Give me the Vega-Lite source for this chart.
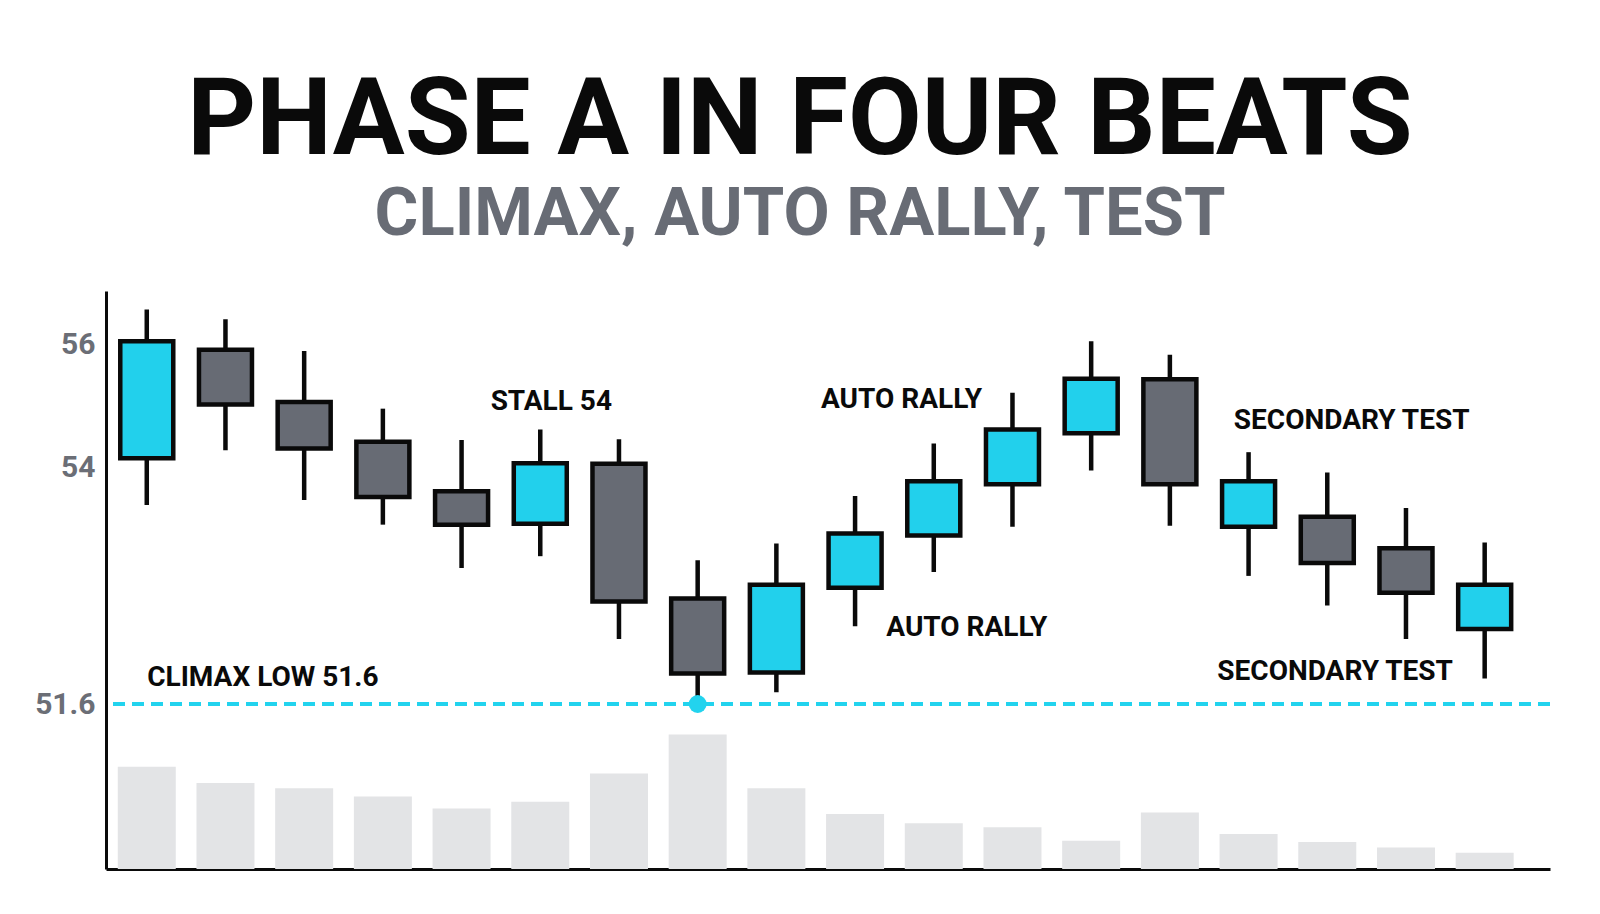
{
  "$schema": "https://vega.github.io/schema/vega-lite/v6.json",
  "description": "Phase A in four beats - candles with volume",
  "background": "white",
  "autosize": "none",
  "width": 1444,
  "height": 578,
  "padding": {"left": 106, "top": 291, "right": 50, "bottom": 45},
  "title": {
    "text": "PHASE A IN FOUR BEATS",
    "subtitle": "CLIMAX, AUTO RALLY, TEST",
    "anchor": "middle",
    "dx": -28,
    "font": "Roboto",
    "fontSize": 107,
    "fontWeight": "bold",
    "color": "#0a0a0a",
    "subtitleFont": "Roboto",
    "subtitleFontSize": 67,
    "subtitleFontWeight": "bold",
    "subtitleColor": "#686c75",
    "subtitlePadding": 6,
    "offset": 42
  },
  "datasets": {
    "candles": [
      {"idx": 1, "open": 54.15, "high": 56.58, "low": 53.62, "close": 56.06, "dir": "up", "vol": 76},
      {"idx": 2, "open": 55.92, "high": 56.42, "low": 54.28, "close": 55.03, "dir": "down", "vol": 64},
      {"idx": 3, "open": 55.07, "high": 55.9, "low": 53.67, "close": 54.31, "dir": "down", "vol": 60},
      {"idx": 4, "open": 54.42, "high": 54.96, "low": 53.42, "close": 53.7, "dir": "down", "vol": 54},
      {"idx": 5, "open": 53.76, "high": 54.45, "low": 52.98, "close": 53.42, "dir": "down", "vol": 45},
      {"idx": 6, "open": 53.43, "high": 54.62, "low": 53.1, "close": 54.07, "dir": "up", "vol": 50},
      {"idx": 7, "open": 54.06, "high": 54.46, "low": 52.26, "close": 52.64, "dir": "down", "vol": 71},
      {"idx": 8, "open": 52.67, "high": 53.06, "low": 51.6, "close": 51.91, "dir": "down", "vol": 100},
      {"idx": 9, "open": 51.92, "high": 53.23, "low": 51.72, "close": 52.81, "dir": "up", "vol": 60},
      {"idx": 10, "open": 52.78, "high": 53.71, "low": 52.39, "close": 53.33, "dir": "up", "vol": 41},
      {"idx": 11, "open": 53.31, "high": 54.39, "low": 52.94, "close": 53.86, "dir": "up", "vol": 34},
      {"idx": 12, "open": 53.83, "high": 55.22, "low": 53.4, "close": 54.62, "dir": "up", "vol": 31},
      {"idx": 13, "open": 54.56, "high": 56.06, "low": 53.97, "close": 55.45, "dir": "up", "vol": 21},
      {"idx": 14, "open": 55.44, "high": 55.84, "low": 53.41, "close": 53.83, "dir": "down", "vol": 42},
      {"idx": 15, "open": 53.4, "high": 54.25, "low": 52.9, "close": 53.86, "dir": "up", "vol": 26},
      {"idx": 16, "open": 53.5, "high": 53.95, "low": 52.6, "close": 53.03, "dir": "down", "vol": 20},
      {"idx": 17, "open": 53.18, "high": 53.59, "low": 52.26, "close": 52.73, "dir": "down", "vol": 16},
      {"idx": 18, "open": 52.36, "high": 53.24, "low": 51.86, "close": 52.81, "dir": "up", "vol": 12}
    ],
    "notes": [
      {"idx": 6.14, "price": 55.07, "label": "STALL 54"},
      {"idx": 2.475, "price": 51.86, "label": "CLIMAX LOW 51.6"},
      {"idx": 10.59, "price": 55.1, "label": "AUTO RALLY"},
      {"idx": 11.42, "price": 52.37, "label": "AUTO RALLY"},
      {"idx": 16.31, "price": 54.76, "label": "SECONDARY TEST"},
      {"idx": 16.1, "price": 51.92, "label": "SECONDARY TEST"}
    ],
    "levels": [
      {"price": 51.6, "name": "climax low"}
    ]
  },
  "layer": [
    {
      "data": {"name": "candles"},
      "mark": {"type": "bar", "width": 58, "color": "#e3e4e6"},
      "encoding": {
        "x": {
          "field": "idx",
          "type": "quantitative",
          "scale": {"domain": [0.482, 18.83], "nice": false, "zero": false, "padding": 0},
          "axis": {
            "labels": false,
            "ticks": false,
            "grid": false,
            "title": null,
            "domainColor": "#0a0a0a",
            "domainWidth": 3
          }
        },
        "y": {
          "field": "vol",
          "type": "quantitative",
          "scale": {"domain": [0, 430], "nice": false},
          "axis": null
        }
      }
    },
    {
      "layer": [
        {
          "data": {"name": "levels"},
          "mark": {"type": "rule", "color": "#22d3ee", "strokeWidth": 4, "strokeDash": [12, 7]},
          "encoding": {
            "y": {
              "field": "price",
              "type": "quantitative",
              "scale": {
                "domain": [49.925, 51.6, 54, 56.88],
                "range": [578, 413, 176.5, 0],
                "nice": false,
                "zero": false
              },
              "axis": {
                "values": [51.6, 54, 56],
                "labelExpr": "toString(datum.value)",
                "title": null,
                "grid": false,
                "ticks": false,
                "domainColor": "#0a0a0a",
                "domainWidth": 3,
                "labelFont": "Roboto",
                "labelFontSize": 30,
                "labelFontWeight": "bold",
                "labelColor": "#6b6e76",
                "labelPadding": 11
              }
            }
          }
        },
        {
          "data": {"name": "candles"},
          "mark": {"type": "rule", "color": "#0a0a0a", "strokeWidth": 4.5},
          "encoding": {
            "x": {"field": "idx", "type": "quantitative"},
            "y": {"field": "low", "type": "quantitative"},
            "y2": {"field": "high"}
          }
        },
        {
          "data": {"name": "candles"},
          "mark": {"type": "bar", "width": 53, "stroke": "#0a0a0a", "strokeWidth": 4.5},
          "encoding": {
            "x": {"field": "idx", "type": "quantitative"},
            "y": {"field": "open", "type": "quantitative"},
            "y2": {"field": "close"},
            "color": {
              "field": "dir",
              "type": "nominal",
              "scale": {"domain": ["up", "down"], "range": ["#22d0ec", "#676b74"]},
              "legend": null
            }
          }
        },
        {
          "data": {"name": "candles"},
          "transform": [{"filter": "datum.idx == 8"}],
          "mark": {"type": "circle", "size": 320, "color": "#22d3ee", "opacity": 1},
          "encoding": {
            "x": {"field": "idx", "type": "quantitative"},
            "y": {"field": "low", "type": "quantitative"}
          }
        },
        {
          "data": {"name": "notes"},
          "mark": {
            "type": "text",
            "font": "Roboto",
            "fontSize": 28,
            "fontWeight": "bold",
            "color": "#0a0a0a",
            "align": "center",
            "baseline": "middle"
          },
          "encoding": {
            "x": {"field": "idx", "type": "quantitative"},
            "y": {"field": "price", "type": "quantitative"},
            "text": {"field": "label"}
          }
        }
      ]
    }
  ],
  "resolve": {"scale": {"y": "independent"}},
  "config": {
    "view": {"stroke": null}
  }
}
